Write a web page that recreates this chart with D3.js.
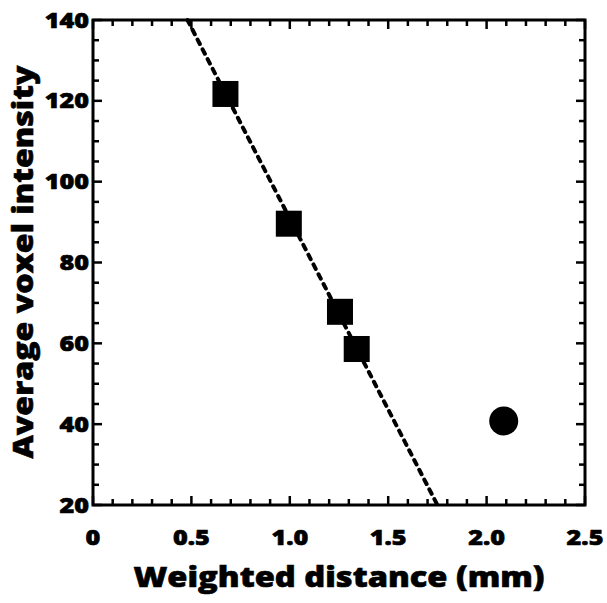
<!DOCTYPE html>
<html><head><meta charset="utf-8">
<script src="https://cdn.jsdelivr.net/npm/d3@7"></script>
<style>body{margin:0;background:#fff}svg{display:block}</style>
</head><body>
<script>
const squareX = [0.673, 0.995, 1.255, 1.34];
const squareY = [121.7, 89.6, 67.8, 58.6];
const circleX = [2.087];
const circleY = [40.8];
const fitX = [0.48, 1.75];
const fitY = [140, 20];
const xTicks = [0, 0.5, 1.0, 1.5, 2.0, 2.5];
const xTickLabels = ["0", "0.5", "1.0", "1.5", "2.0", "2.5"];
const yTicks = [20, 40, 60, 80, 100, 120, 140];

const W = 607, H = 603;
const m = {l: 93, r: 22, t: 20, b: 98};
const svg = d3.select("body").append("svg").attr("width", W).attr("height", H);
const x = d3.scaleLinear().domain([0, 2.5]).range([m.l, W - m.r]);
const y = d3.scaleLinear().domain([20, 140]).range([H - m.b, m.t]);
const font = "'Open Sans', 'DejaVu Sans', sans-serif";

const g = svg.append("g");
const xMinor = d3.range(0, 2.5001, 0.1);
const yMinor = d3.range(20, 140.001, 5);
function tickStyle(sel){ sel.attr("stroke","#000").attr("stroke-width",2.5); }
xMinor.forEach(v => {
  const major = xTicks.some(t => Math.abs(t - v) < 1e-6);
  const len = major ? 9 : 6;
  g.append("line").attr("x1", x(v)).attr("x2", x(v)).attr("y1", y(20)).attr("y2", y(20) - len).call(tickStyle);
  g.append("line").attr("x1", x(v)).attr("x2", x(v)).attr("y1", y(140)).attr("y2", y(140) + len).call(tickStyle);
});
yMinor.forEach(v => {
  const major = yTicks.some(t => Math.abs(t - v) < 1e-6);
  const len = major ? 9 : 6;
  g.append("line").attr("x1", x(0)).attr("x2", x(0) + len).attr("y1", y(v)).attr("y2", y(v)).call(tickStyle);
  g.append("line").attr("x1", x(2.5)).attr("x2", x(2.5) - len).attr("y1", y(v)).attr("y2", y(v)).call(tickStyle);
});
g.append("rect").attr("x", x(0)).attr("y", y(140)).attr("width", x(2.5) - x(0)).attr("height", y(20) - y(140))
  .attr("fill", "none").attr("stroke", "#000").attr("stroke-width", 3);

function label(tx, ty, txt, size, anchor, rot, sx) {
  svg.append("g").attr("transform", `translate(${tx},${ty})${rot ? " rotate(-90)" : ""} scale(${sx},1)`)
    .append("text").attr("text-anchor", anchor)
    .attr("font-family", font).attr("font-weight", 800).attr("font-size", size)
    .attr("stroke", "#000").attr("stroke-width", 0.6).text(txt);
}
xTicks.forEach((v, i) => label(x(v), 545, xTickLabels[i], 21, "middle", false, 1.2));
yTicks.forEach(v => label(x(0) - 4, y(v) + 7.5, v, 21, "end", false, 1.2));

label(339, 587, "Weighted distance (mm)", 28, "middle", false, 1.165);
label(33, 262, "Average voxel intensity", 28, "middle", true, 1.145);

const line = d3.line().x(d => x(d[0])).y(d => y(d[1]));
svg.append("path").datum(fitX.map((v, i) => [v, fitY[i]])).attr("d", line)
  .attr("fill", "none").attr("stroke", "#000").attr("stroke-width", 4)
  .attr("stroke-dasharray", "5,6").attr("stroke-linecap", "round");

const s = 26;
svg.selectAll(".sq").data(squareX.map((v, i) => [v, squareY[i]])).enter().append("rect")
  .attr("x", d => x(d[0]) - s / 2).attr("y", d => y(d[1]) - s / 2).attr("width", s).attr("height", s).attr("fill", "#000");
svg.selectAll(".ci").data(circleX.map((v, i) => [v, circleY[i]])).enter().append("circle")
  .attr("cx", d => x(d[0])).attr("cy", d => y(d[1])).attr("r", 14.5).attr("fill", "#000");
</script>
</body></html>
